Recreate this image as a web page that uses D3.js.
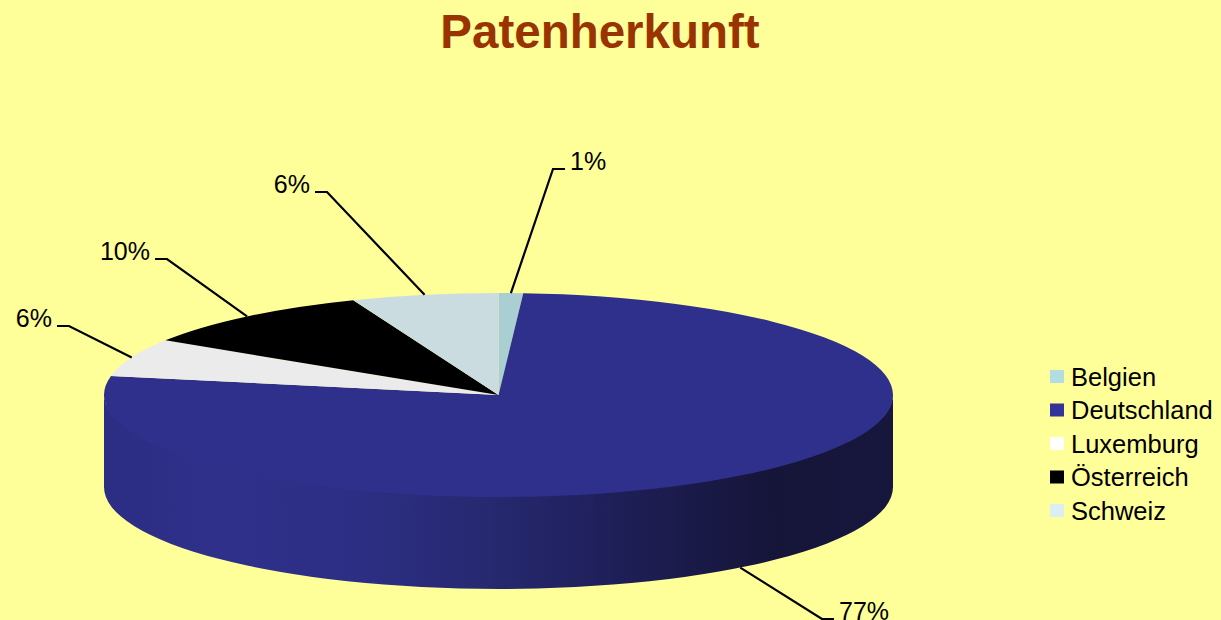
<!DOCTYPE html>
<html>
<head>
<meta charset="utf-8">
<script src="https://cdn.jsdelivr.net/npm/d3@7/dist/d3.min.js"></script>
<style>
  html, body { margin: 0; padding: 0; background: #FFFF99; }
  svg { display: block; }
  text { font-family: "Liberation Sans", Arial, sans-serif; }
</style>
</head>
<body>
<svg id="chart" width="1221" height="620"></svg>
<script>
// ---- data ----
const title = "Patenherkunft";
const categories = ["Belgien", "Deutschland", "Luxemburg", "Österreich", "Schweiz"];
const values = [1, 77, 6, 10, 6];
const labels = ["1%", "77%", "6%", "10%", "6%"];

// ---- styling / layout ----
const topColors = ["#A9CFD3", "#2E308C", "#EBEBEB", "#000000", "#CADCE0"];
const legendColors = ["#B2DDE2", "#333399", "#FFFFFF", "#000000", "#DAEEF3"];
// label elbow points (layout) and side: +1 = text to the right, -1 = left
const labelElbows = [[553, 169], [822, 619], [69, 326], [167, 259], [327, 192]];
const labelSide = [1, 1, -1, -1, -1];

const W = 1221, H = 620;
const cx = 498.5, cy = 395, rx = 394.5, ry = 102, depth = 92;

const svg = d3.select("#chart");
svg.append("rect").attr("width", W).attr("height", H).attr("fill", "#FFFF99");

svg.append("text")
  .attr("x", 600).attr("y", 48)
  .attr("text-anchor", "middle")
  .attr("font-size", 47.5).attr("font-weight", "bold")
  .attr("fill", "#993300")
  .text(title);

const pie = d3.pie().sort(null).value(d => d)(values);

const px = a => cx + rx * Math.sin(a);
const py = (a, dy = 0) => cy + dy - ry * Math.cos(a);

// side gradient
const defs = svg.append("defs");
const grad = defs.append("linearGradient")
  .attr("id", "sideGrad").attr("gradientUnits", "userSpaceOnUse")
  .attr("x1", cx - rx).attr("x2", cx + rx).attr("y1", 0).attr("y2", 0);
[[0, "#2C2E84"], [0.14, "#2E308A"], [0.3, "#2D2F86"], [0.5, "#26286F"],
 [0.7, "#1C1C50"], [0.85, "#151539"], [1, "#17173E"]].forEach(([o, c]) =>
  grad.append("stop").attr("offset", o).attr("stop-color", c));

// visible sides: the front half (angles PI/2 .. 3PI/2)
const sideG = svg.append("g");
pie.forEach((d, i) => {
  const a0 = Math.max(d.startAngle, Math.PI / 2);
  const a1 = Math.min(d.endAngle, 3 * Math.PI / 2);
  if (a1 <= a0) return;
  const large = (a1 - a0) > Math.PI ? 1 : 0;
  const path = `M${px(a0)},${py(a0) - 1} A${rx},${ry} 0 ${large} 1 ${px(a1)},${py(a1) - 1}` +
    ` L${px(a1)},${py(a1, depth)} A${rx},${ry} 0 ${large} 0 ${px(a0)},${py(a0, depth)} Z`;
  sideG.append("path").attr("d", path)
    .attr("fill", i === 1 ? "url(#sideGrad)" : d3.color(topColors[i]).darker(0.8));
});

// tops
const topG = svg.append("g");
pie.forEach((d, i) => {
  const a0 = d.startAngle, a1 = d.endAngle;
  const large = (a1 - a0) > Math.PI ? 1 : 0;
  const path = `M${cx},${cy} L${px(a0)},${py(a0)} A${rx},${ry} 0 ${large} 1 ${px(a1)},${py(a1)} Z`;
  topG.append("path").attr("d", path).attr("fill", topColors[i]);
});

// leader lines + labels
const labG = svg.append("g");
pie.forEach((d, i) => {
  const m = (d.startAngle + d.endAngle) / 2;
  const front = Math.cos(m) < 0;
  const sx = px(m), sy = py(m, front ? depth : 0);
  const [ex, ey] = labelElbows[i];
  const s = labelSide[i];
  const hx = ex + s * 12;
  labG.append("polyline")
    .attr("points", `${sx},${sy} ${ex},${ey} ${hx},${ey}`)
    .attr("fill", "none").attr("stroke", "#000").attr("stroke-width", 2.2);
  labG.append("text")
    .attr("x", hx + s * 5).attr("y", ey + 1)
    .attr("text-anchor", s > 0 ? "start" : "end")
    .attr("font-size", 25).attr("fill", "#000")
    .text(labels[i]);
});

// legend
const lg = svg.append("g").attr("transform", "translate(1050,376)");
const ly = d3.scalePoint().domain(categories).range([0, 134]);
categories.forEach((c, i) => {
  lg.append("rect").attr("x", 0).attr("y", ly(c) - 6).attr("width", 14).attr("height", 13)
    .attr("fill", legendColors[i]);
  lg.append("text").attr("x", 21).attr("y", ly(c) + 9.5)
    .attr("font-size", 25.5).attr("fill", "#000").text(c);
});
</script>
</body>
</html>
